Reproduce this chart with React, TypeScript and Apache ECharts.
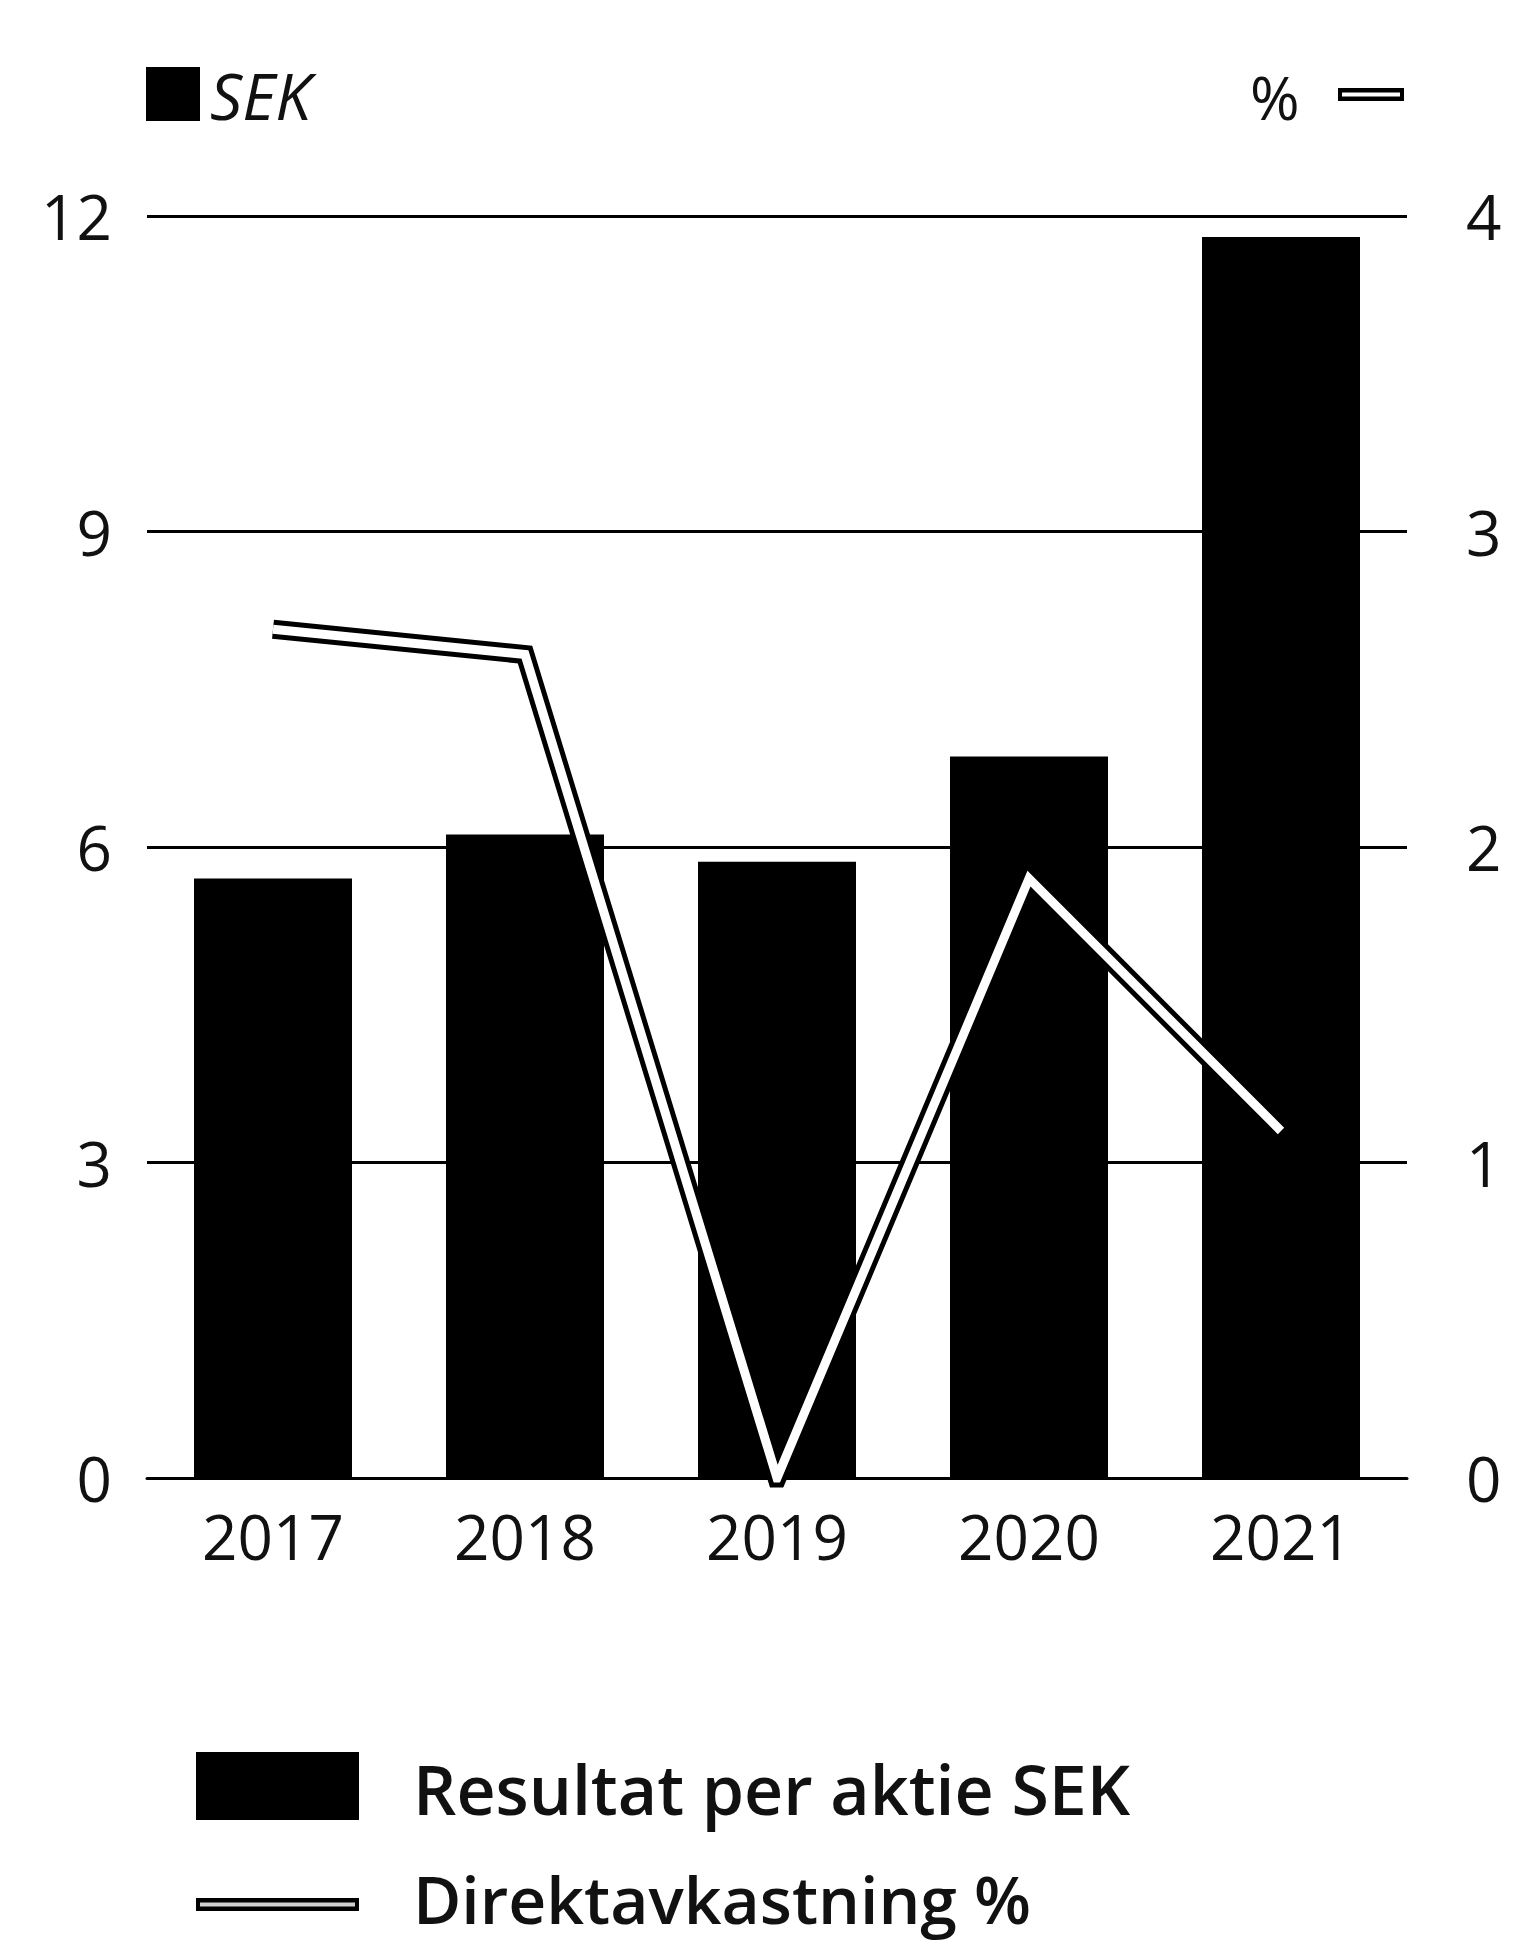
import React, { useEffect, useRef } from "react";
import * as echarts from "echarts";

// Years on the category axis
const years = ["2017", "2018", "2019", "2020", "2021"];
// Resultat per aktie, SEK (bars, left axis)
const earningsPerShare = [5.7, 6.12, 5.86, 6.86, 11.8];
// Direktavkastning, % (line, right axis)
const dividendYield = [2.69, 2.61, 0, 1.9, 1.1];
// Tick values of the two value axes
const sekTicks = [0, 3, 6, 9, 12];
const pctTicks = [0, 1, 2, 3, 4];

const barName = "Resultat per aktie SEK";
const lineName = "Direktavkastning %";
const sekUnit = "SEK";
const pctUnit = "%";

const FONT = "'Open Sans', 'Noto Sans', 'Liberation Sans', sans-serif";
const INK = "#000000";

export default function App() {
  const ref = useRef<HTMLDivElement>(null);

  useEffect(() => {
    if (!ref.current) return;
    const chart = echarts.init(ref.current, undefined, { renderer: "svg" });

    const axisLabel = { color: "#111", fontFamily: FONT, fontSize: 62 };

    chart.setOption({
      animation: false,
      backgroundColor: "#ffffff",
      grid: { left: 147, right: 109, top: 216, bottom: 466 },
      xAxis: {
        type: "category",
        data: years,
        axisLine: { show: true, lineStyle: { color: INK, width: 3 } },
        axisTick: { show: false },
        axisLabel: { ...axisLabel, margin: 27 },
      },
      yAxis: [
        {
          type: "value",
          min: sekTicks[0],
          max: sekTicks[sekTicks.length - 1],
          interval: sekTicks[1] - sekTicks[0],
          axisLine: { show: false },
          axisTick: { show: false },
          splitLine: { show: true, lineStyle: { color: INK, width: 2.8 } },
          axisLabel: { ...axisLabel, margin: 35 },
        },
        {
          type: "value",
          min: pctTicks[0],
          max: pctTicks[pctTicks.length - 1],
          interval: pctTicks[1] - pctTicks[0],
          position: "right",
          axisLine: { show: false },
          axisTick: { show: false },
          splitLine: { show: false },
          axisLabel: { ...axisLabel, margin: 59 },
        },
      ],
      series: [
        {
          name: barName,
          type: "bar",
          data: earningsPerShare,
          barWidth: 158,
          itemStyle: { color: INK },
          z: 2,
        },
        {
          name: lineName,
          type: "line",
          yAxisIndex: 1,
          data: dividendYield,
          symbol: "none",
          lineStyle: { color: INK, width: 19, join: "miter", cap: "butt" },
          z: 3,
        },
        {
          name: lineName + " ",
          type: "line",
          yAxisIndex: 1,
          data: dividendYield,
          symbol: "none",
          lineStyle: { color: "#ffffff", width: 9, join: "miter", cap: "butt" },
          z: 4,
        },
      ],
      graphic: [
        // unit marker, left axis
        { type: "rect", shape: { x: 146, y: 67, width: 54, height: 54 }, style: { fill: INK } },
        {
          type: "text",
          x: 210,
          y: 95,
          style: {
            text: sekUnit,
            fontFamily: FONT,
            fontStyle: "italic",
            fontSize: 64,
            fill: "#111",
            verticalAlign: "middle",
          },
        },
        // unit marker, right axis
        {
          type: "text",
          x: 1250,
          y: 97,
          style: { text: pctUnit, fontFamily: FONT, fontSize: 60, fill: "#111", verticalAlign: "middle" },
        },
        { type: "rect", shape: { x: 1338, y: 88, width: 66, height: 13 }, style: { fill: INK } },
        { type: "rect", shape: { x: 1342, y: 92.5, width: 58, height: 4 }, style: { fill: "#ffffff" } },
        // legend
        { type: "rect", shape: { x: 196, y: 1752, width: 163, height: 68 }, style: { fill: INK } },
        {
          type: "text",
          x: 413,
          y: 1788,
          style: {
            text: barName,
            fontFamily: FONT,
            fontWeight: 600,
            fontSize: 68,
            fill: "#111",
            verticalAlign: "middle",
          },
        },
        { type: "rect", shape: { x: 196, y: 1898, width: 163, height: 13 }, style: { fill: INK } },
        { type: "rect", shape: { x: 200, y: 1902.5, width: 155, height: 4 }, style: { fill: "#cfcfcf" } },
        {
          type: "text",
          x: 413,
          y: 1898,
          style: {
            text: lineName,
            fontFamily: FONT,
            fontWeight: 600,
            fontSize: 66,
            lineHeight: 70,
            fill: "#111",
            verticalAlign: "middle",
          },
        },
      ],
    });

    return () => chart.dispose();
  }, []);

  return (
    <div
      ref={ref}
      style={{ position: "absolute", left: 0, top: 0, width: 1516, height: 1944 }}
    />
  );
}
